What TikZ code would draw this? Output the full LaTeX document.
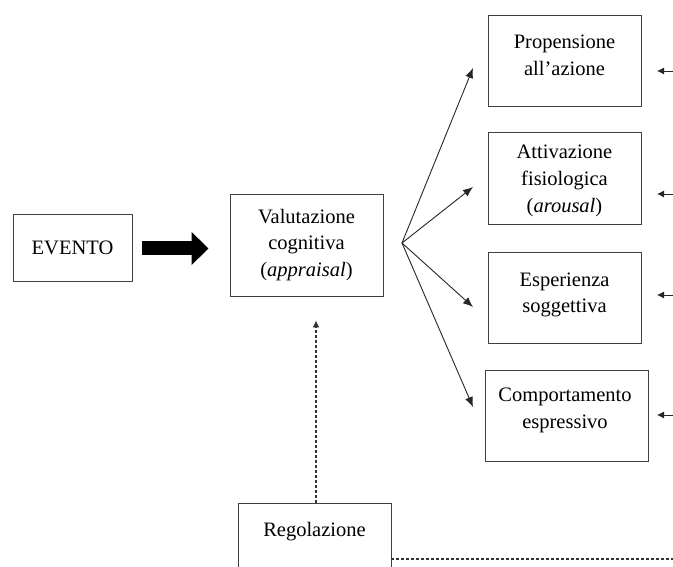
\documentclass[tikz,border=0pt]{standalone}
\usepackage{fontspec}
\setmainfont{Liberation Serif}
\usetikzlibrary{arrows.meta}
\begin{document}
\begin{tikzpicture}[x=1pt,y=-1pt,
  box/.style={draw=black!75, line width=0.9pt, align=center, inner sep=0pt,
    font=\fontsize{20.5}{26.7}\selectfont},
  lbl/.style={inner sep=0pt, align=center, font=\fontsize{20.5}{26.7}\selectfont},
  conn/.style={draw=black!85, line width=0.9pt, -{Latex[length=10pt,width=8pt]}},
  small/.style={draw=black!85, line width=0.9pt, -{Latex[length=7pt,width=7pt]}},
  dashy/.style={draw=black!80, line width=1.1pt, dash pattern=on 3pt off 2pt},
  big/.style={draw=black, line width=14pt, -{Triangle[length=17pt,width=32pt]}}]
\useasboundingbox (0,0) rectangle (673,567);
\clip (0,0) rectangle (673,567);
% boxes
\node[box, minimum width=119, minimum height=67] (evento) at (72.5,247.5) {EVENTO};
\node[box, minimum width=153, minimum height=102] (valut) at (306.5,245) {Valutazione\\cognitiva\\(\textit{appraisal})};
\node[box, minimum width=153, minimum height=91] (prop) at (564.5,60.5) {};
\node[lbl] (propt) at (564.5,55.5) {Propensione\\all’azione};
\node[box, minimum width=153, minimum height=92] (attiv) at (564.5,178) {};
\node[lbl] (attivt) at (564.5,181) {Attivazione\\fisiologica\\(\textit{arousal})};
\node[box, minimum width=153, minimum height=91] (esper) at (564.5,297.5) {};
\node[lbl] (espert) at (564.5,295) {Esperienza\\soggettiva};
\node[box, minimum width=163, minimum height=91] (comp) at (566.5,415.5) {};
\node[lbl] (compt) at (565,410.5) {Comportamento\\espressivo};
\node[box, minimum width=153, minimum height=100] (reg) at (314.5,553) {};
\node[lbl] (regtext) at (314.5,532) {Regolazione};
% thick arrow
\draw[big, shorten <=10pt, shorten >=21pt] ([yshift=-1pt]evento.east) -- ([yshift=-1pt]evento.east -| valut.west);
% fan
\coordinate (fan) at (402,243);
\coordinate (t1) at (473,68);
\coordinate (t2) at (473,187);
\coordinate (t3) at (473,307);
\coordinate (t4) at (473,407);
\draw[conn] (fan) -- (t1);
\draw[conn] (fan) -- (t2);
\draw[conn] (fan) -- (t3);
\draw[conn] (fan) -- (t4);
% right side small arrows
\coordinate (r1) at (673,71);
\coordinate (r2) at (673,194);
\coordinate (r3) at (673,295);
\coordinate (r4) at (673,415);
\draw[small] (r1) -- ([xshift=-16pt]r1);
\draw[small] (r2) -- ([xshift=-16pt]r2);
\draw[small] (r3) -- ([xshift=-16pt]r3);
\draw[small] (r4) -- ([xshift=-16pt]r4);
% dashed regulation
\draw[dashy, -{Latex[length=7pt,width=7pt]}, shorten >=24pt] ([xshift=1.5pt]reg.north) -- ([xshift=1.5pt]reg.north |- valut.south);
\coordinate (dend) at (673,559);
\draw[dashy] (reg.east |- dend) -- (dend);
\end{tikzpicture}
\end{document}
